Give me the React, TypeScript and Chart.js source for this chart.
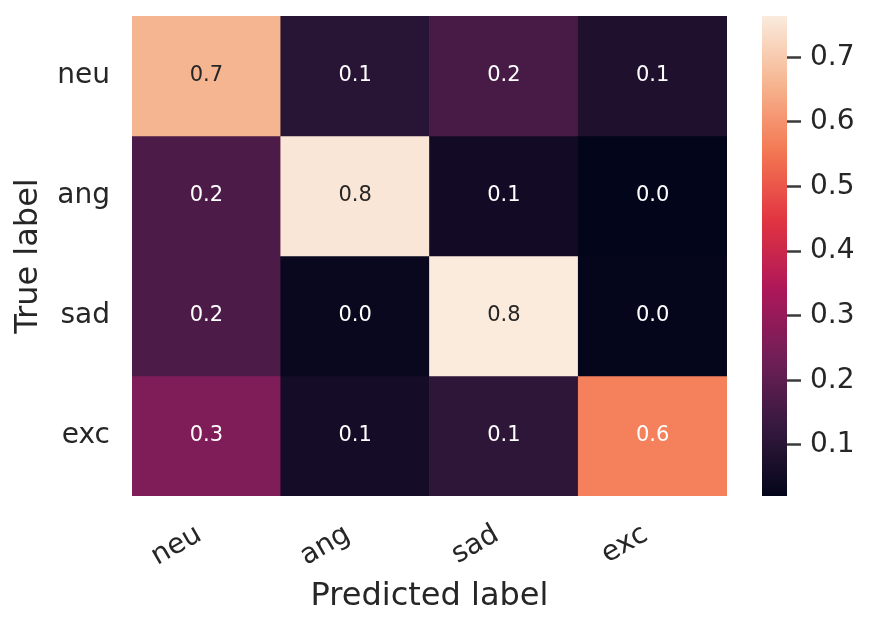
import React, { useEffect, useRef } from 'react';
import { Chart, registerables } from 'chart.js';

Chart.register(...registerables);

// ---- data ----
const predictedLabels = ['neu', 'ang', 'sad', 'exc'];
const trueLabels = ['neu', 'ang', 'sad', 'exc'];
const rowNeu = [0.66, 0.10, 0.16, 0.08];
const rowAng = [0.17, 0.755, 0.055, 0.021];
const rowSad = [0.17, 0.035, 0.764, 0.026];
const rowExc = [0.26, 0.06, 0.11, 0.57];
const rows = [rowNeu, rowAng, rowSad, rowExc];
const colorbarTicks = [0.1, 0.2, 0.3, 0.4, 0.5, 0.6, 0.7];

const allVals = rows.flat();
const vmin = Math.min(...allVals);
const vmax = Math.max(...allVals);

// ---- style ----
const FONT = '"DejaVu Sans", "Liberation Sans", sans-serif';
const TEXT = '#262626';

const rocketStops: [number, string][] = [
  [0, '#03051a'],
  [1 / 7, '#35193e'],
  [2 / 7, '#701f57'],
  [3 / 7, '#ad1759'],
  [4 / 7, '#e13342'],
  [5 / 7, '#f37651'],
  [6 / 7, '#f6b48f'],
  [1, '#faebdd'],
];

function hexToRgb(h: string) {
  const n = parseInt(h.slice(1), 16);
  return [(n >> 16) & 255, (n >> 8) & 255, n & 255];
}

function rocket(t: number): number[] {
  t = Math.max(0, Math.min(1, t));
  for (let i = 0; i < rocketStops.length - 1; i++) {
    const [t0, c0] = rocketStops[i];
    const [t1, c1] = rocketStops[i + 1];
    if (t <= t1) {
      const f = (t - t0) / (t1 - t0);
      const a = hexToRgb(c0);
      const b = hexToRgb(c1);
      return [0, 1, 2].map((k) => Math.round(a[k] + (b[k] - a[k]) * f));
    }
  }
  return hexToRgb(rocketStops[rocketStops.length - 1][1]);
}

function colorFor(v: number) {
  const c = rocket((v - vmin) / (vmax - vmin));
  return `rgb(${c[0]},${c[1]},${c[2]})`;
}

function textColorFor(v: number) {
  const c = rocket((v - vmin) / (vmax - vmin)).map((x) => {
    const s = x / 255;
    return s <= 0.03928 ? s / 12.92 : Math.pow((s + 0.055) / 1.055, 2.4);
  });
  const lum = 0.2126 * c[0] + 0.7152 * c[1] + 0.0722 * c[2];
  return lum > 0.408 ? TEXT : '#ffffff';
}

const annotatePlugin = {
  id: 'annotate',
  afterDatasetsDraw(chart: any) {
    const ctx = chart.ctx;
    ctx.save();
    ctx.font = `21px ${FONT}`;
    ctx.textAlign = 'center';
    ctx.textBaseline = 'middle';
    chart.data.datasets.forEach((_: any, i: number) => {
      const meta = chart.getDatasetMeta(i);
      meta.data.forEach((el: any, j: number) => {
        const v = rows[i][j];
        const { x, y, base } = el.getProps(['x', 'y', 'base'], true);
        ctx.fillStyle = textColorFor(v);
        ctx.fillText(v.toFixed(1), x, (y + base) / 2);
      });
    });
    ctx.restore();
  },
};

export default function App() {
  const mainRef = useRef<HTMLCanvasElement>(null);
  const cbRef = useRef<HTMLCanvasElement>(null);

  useEffect(() => {
    const main = new Chart(mainRef.current!, {
      type: 'bar',
      data: {
        labels: predictedLabels,
        datasets: rows.map((row, i) => ({
          label: trueLabels[i],
          data: row.map(() => 1),
          backgroundColor: row.map((v) => colorFor(v)),
          borderWidth: 0,
          barPercentage: 1,
          categoryPercentage: 1,
        })),
      },
      options: {
        responsive: false,
        animation: false,
        layout: { padding: { top: 8, right: 0, bottom: 0, left: 0 } },
        plugins: { legend: { display: false }, tooltip: { enabled: false } },
        scales: {
          x: {
            stacked: true,
            grid: { display: false, drawTicks: false },
            border: { display: false },
            ticks: {
              font: { family: FONT, size: 28 },
              color: TEXT,
              minRotation: 30,
              maxRotation: 30,
              padding: 22,
              labelOffset: -7,
              autoSkip: false,
            },
            title: {
              display: true,
              text: 'Predicted label',
              font: { family: FONT, size: 32 },
              color: TEXT,
              padding: { top: 4, bottom: 2 },
            },
            afterFit: (s: any) => {
              s.height = 122;
              s.paddingLeft = 0;
              s.paddingRight = 0;
            },
          },
          y: {
            type: 'linear',
            stacked: true,
            reverse: true,
            min: 0,
            max: 4,
            afterBuildTicks: (s: any) => {
              s.ticks = trueLabels.map((_, i) => ({ value: i + 0.5 }));
            },
            ticks: {
              callback: (v: any) => trueLabels[Math.floor(Number(v))],
              font: { family: FONT, size: 28 },
              color: TEXT,
              padding: 22,
            },
            grid: { display: false, drawTicks: false },
            border: { display: false },
            title: {
              display: true,
              text: 'True label',
              font: { family: FONT, size: 32 },
              color: TEXT,
              padding: { top: 1, bottom: 0 },
            },
            afterFit: (s: any) => {
              s.width = 124;
              s.paddingTop = 0;
              s.paddingBottom = 0;
            },
          },
        },
      },
      plugins: [annotatePlugin],
    } as any);

    const cb = new Chart(cbRef.current!, {
      type: 'bar',
      data: {
        labels: [''],
        datasets: [
          {
            data: [[vmin, vmax]],
            backgroundColor: (ctx: any) => {
              const chart = ctx.chart;
              const area = chart.chartArea;
              if (!area) return colorFor(vmin);
              const g = chart.ctx.createLinearGradient(0, area.bottom, 0, area.top);
              for (let i = 0; i <= 40; i++) {
                const t = i / 40;
                const c = rocket(t);
                g.addColorStop(t, `rgb(${c[0]},${c[1]},${c[2]})`);
              }
              return g;
            },
            borderWidth: 0,
            barPercentage: 1,
            categoryPercentage: 1,
          },
        ],
      },
      options: {
        responsive: false,
        animation: false,
        layout: { padding: { top: 8, right: 0, bottom: 0, left: 0 } },
        plugins: { legend: { display: false }, tooltip: { enabled: false } },
        scales: {
          x: { display: false },
          y: {
            position: 'right',
            min: vmin,
            max: vmax,
            afterBuildTicks: (s: any) => {
              s.ticks = colorbarTicks.map((v) => ({ value: v }));
            },
            ticks: {
              callback: (v: any) => Number(v).toFixed(1),
              font: { family: FONT, size: 28 },
              color: TEXT,
              padding: 9,
            },
            grid: {
              drawOnChartArea: false,
              tickLength: 14,
              tickWidth: 2.5,
              tickColor: '#3a3a3a',
            },
            border: { display: false },
            afterFit: (s: any) => {
              s.width = 75;
              s.paddingTop = 0;
              s.paddingBottom = 0;
            },
          },
        },
      },
    } as any);

    return () => {
      main.destroy();
      cb.destroy();
    };
  }, []);

  return (
    <div style={{ position: 'relative', width: 856, height: 616 }}>
      <canvas
        ref={mainRef}
        width={719}
        height={610}
        style={{ position: 'absolute', left: 0, top: 0, width: 719, height: 610 }}
      />
      <canvas
        ref={cbRef}
        width={100}
        height={488}
        style={{ position: 'absolute', left: 754, top: 0, width: 100, height: 488 }}
      />
    </div>
  );
}
